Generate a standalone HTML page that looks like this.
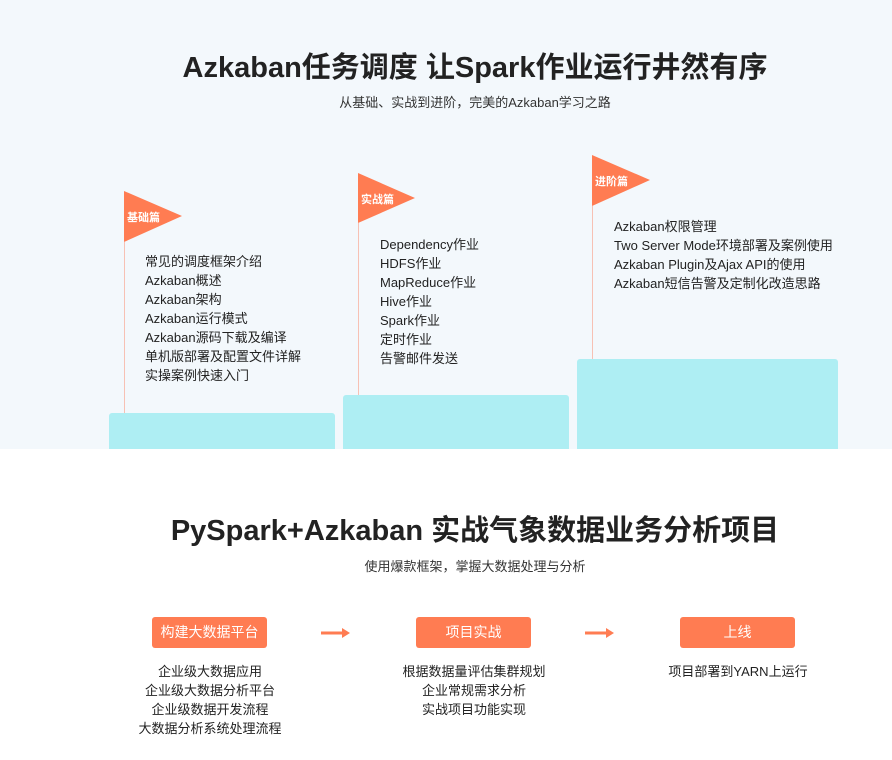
<!DOCTYPE html>
<html><head><meta charset="utf-8"><style>
body{margin:0;width:892px;height:760px;background:#fff;font-family:"Liberation Sans","Noto Sans CJK SC",sans-serif;color:#222;position:relative;overflow:hidden}
.a{position:absolute}
.top{left:0;top:0;width:892px;height:449px;background:#f3f8fc}
.t1{left:0;width:950px;text-align:center;font-weight:bold;font-size:29px;color:#222}
.sub{left:0;width:950px;text-align:center;font-size:13px;color:#333}
.step{background:#aeeef3;border-radius:3px 3px 0 0}
.list{font-size:13px;line-height:19px;color:#222}
.flagt{color:#fff;font-size:11px;font-weight:bold}
.btn{background:#ff7c52;color:#fff;font-size:14px;text-align:center;line-height:31px;border-radius:3px;width:115px;height:31px}
.c{text-align:center;font-size:13px;line-height:19px;width:220px}
</style></head><body>
<div class="a top"></div>
<div class="a t1" style="top:44px">Azkaban任务调度 让Spark作业运行井然有序</div>
<div class="a sub" style="top:92px">从基础、实战到进阶，完美的Azkaban学习之路</div>

<svg class="a" style="left:0;top:0" width="892" height="449">
<polygon points="124,191 182,216 124,242" fill="#ff7c52"/>
<polygon points="358,173 415,198 358,223" fill="#ff7c52"/>
<polygon points="592,155 650,180 592,206" fill="#ff7c52"/>
<line x1="124.5" y1="242" x2="124.5" y2="413" stroke="#f7c1b4"/>
<line x1="358.5" y1="223" x2="358.5" y2="395" stroke="#f7c1b4"/>
<line x1="592.5" y1="206" x2="592.5" y2="359" stroke="#f7c1b4"/>
</svg>
<div class="a flagt" style="left:127px;top:209px">基础篇</div>
<div class="a flagt" style="left:361px;top:191px">实战篇</div>
<div class="a flagt" style="left:595px;top:173px">进阶篇</div>

<div class="a list" style="left:145px;top:252px">常见的调度框架介绍<br>Azkaban概述<br>Azkaban架构<br>Azkaban运行模式<br>Azkaban源码下载及编译<br>单机版部署及配置文件详解<br>实操案例快速入门</div>
<div class="a list" style="left:380px;top:235px">Dependency作业<br>HDFS作业<br>MapReduce作业<br>Hive作业<br>Spark作业<br>定时作业<br>告警邮件发送</div>
<div class="a list" style="left:614px;top:217px">Azkaban权限管理<br>Two Server Mode环境部署及案例使用<br>Azkaban Plugin及Ajax API的使用<br>Azkaban短信告警及定制化改造思路</div>

<div class="a step" style="left:109px;top:413px;width:226px;height:36px"></div>
<div class="a step" style="left:343px;top:395px;width:226px;height:54px"></div>
<div class="a step" style="left:577px;top:359px;width:261px;height:90px"></div>

<div class="a t1" style="top:507px">PySpark+Azkaban 实战气象数据业务分析项目</div>
<div class="a sub" style="top:556px">使用爆款框架，掌握大数据处理与分析</div>

<div class="a btn" style="left:152px;top:617px">构建大数据平台</div>
<div class="a btn" style="left:416px;top:617px">项目实战</div>
<div class="a btn" style="left:680px;top:617px">上线</div>
<svg class="a" style="left:0;top:620px" width="892" height="30">
<line x1="321" y1="13" x2="343" y2="13" stroke="#ff7c52" stroke-width="3"/>
<polygon points="342,8 350,13 342,18" fill="#ff7c52"/>
<line x1="585" y1="13" x2="607" y2="13" stroke="#ff7c52" stroke-width="3"/>
<polygon points="606,8 614,13 606,18" fill="#ff7c52"/>
</svg>
<div class="a c" style="left:100px;top:662px">企业级大数据应用<br>企业级大数据分析平台<br>企业级数据开发流程<br>大数据分析系统处理流程</div>
<div class="a c" style="left:364px;top:662px">根据数据量评估集群规划<br>企业常规需求分析<br>实战项目功能实现</div>
<div class="a c" style="left:628px;top:662px">项目部署到YARN上运行</div>
</body></html>
